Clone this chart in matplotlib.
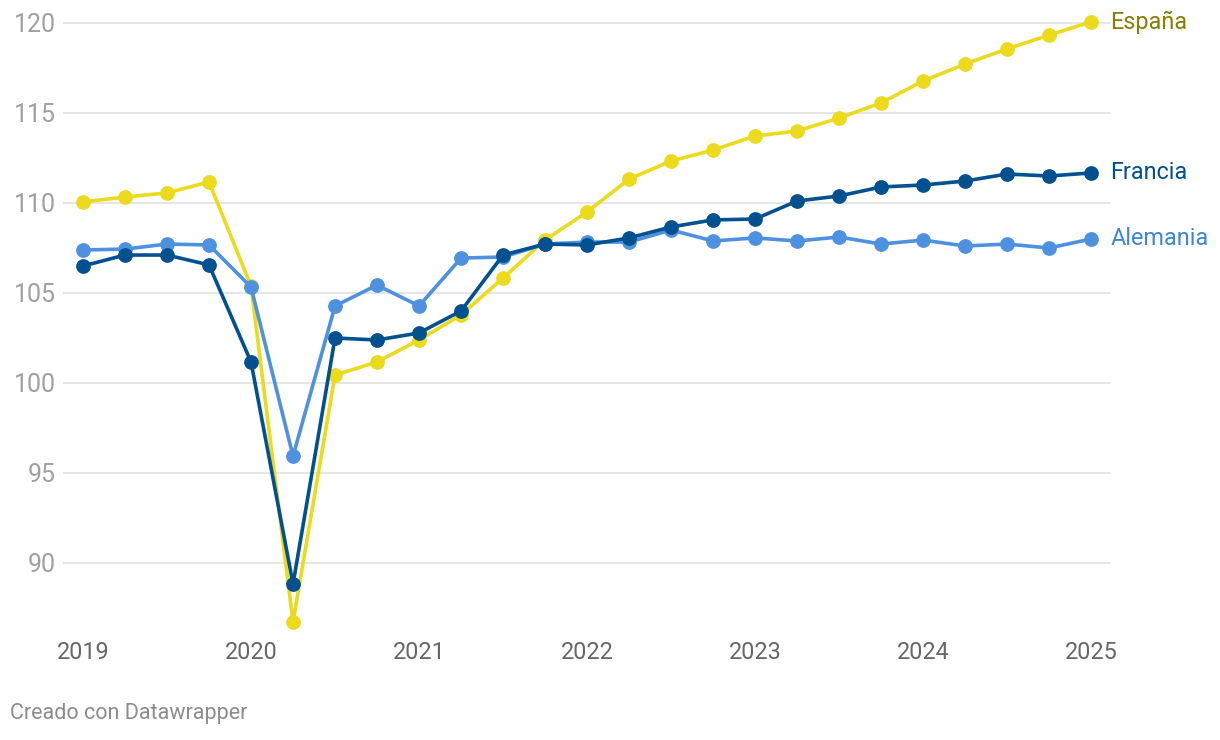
import matplotlib.pyplot as plt

# quarterly index, 2019 Q1 .. 2025 Q1
years = ['2019', '2020', '2021', '2022', '2023', '2024', '2025']

espana = [110.06, 110.33, 110.56, 111.17, 105.39, 86.72, 100.44, 101.17, 102.39,
          103.78, 105.83, 107.94, 109.5, 111.33, 112.33, 112.94, 113.72, 114.0,
          114.72, 115.56, 116.78, 117.72, 118.56, 119.33, 120.06]
francia = [106.5, 107.11, 107.11, 106.56, 101.17, 88.83, 102.5, 102.39, 102.78,
           104.0, 107.11, 107.72, 107.67, 108.06, 108.67, 109.06, 109.11, 110.11,
           110.39, 110.89, 111.0, 111.22, 111.61, 111.5, 111.67]
alemania = [107.39, 107.44, 107.72, 107.67, 105.33, 95.94, 104.28, 105.44, 104.28,
            106.94, 107.0, 107.72, 107.83, 107.83, 108.5, 107.89, 108.06, 107.89,
            108.11, 107.72, 107.94, 107.61, 107.72, 107.5, 108.0]

plt.rcParams['font.family'] = ['Roboto', 'DejaVu Sans']

fig = plt.figure(figsize=(12.2, 7.4), dpi=100)
ax = fig.add_axes([63 / 1220, 105 / 740, 1047 / 1220, 630 / 740])

x = list(range(len(espana)))
series = [
    ('España', espana, '#ebdb1c', '#8a7d00', 2),
    ('Alemania', alemania, '#4d91e0', '#3d85d6', 3),
    ('Francia', francia, '#01508f', '#01508f', 4),
]
for name, vals, col, tcol, z in series:
    ax.plot(x, vals, color=col, lw=2.6, marker='o', ms=9.6, zorder=z,
            solid_joinstyle='round')
    ax.annotate(name, (x[-1], vals[-1]), xytext=(14, 0), textcoords='offset points',
                va='center', ha='left', fontsize=16.8, color=tcol,
                annotation_clip=False)

ax.set_xlim(-0.476, 24.45)
ax.set_ylim(86, 121)
ax.set_yticks([90, 95, 100, 105, 110, 115, 120])
ax.set_xticks(range(0, 25, 4))
ax.set_xticklabels(years)
ax.grid(axis='y', color='#e2e2e2', lw=1.2, zorder=0)
ax.set_axisbelow(True)
for s in ax.spines.values():
    s.set_visible(False)
ax.tick_params(axis='y', length=0, pad=5, labelsize=18, labelcolor='#a0a0a0')
ax.tick_params(axis='x', length=0, pad=4, labelsize=16.8, labelcolor='#666666')

fig.text(10 / 1220, 1 - 714 / 740, 'Creado con Datawrapper', fontsize=15.5,
         color='#8c8c8c', va='center', ha='left')

fig.savefig('out.png', dpi=100)
